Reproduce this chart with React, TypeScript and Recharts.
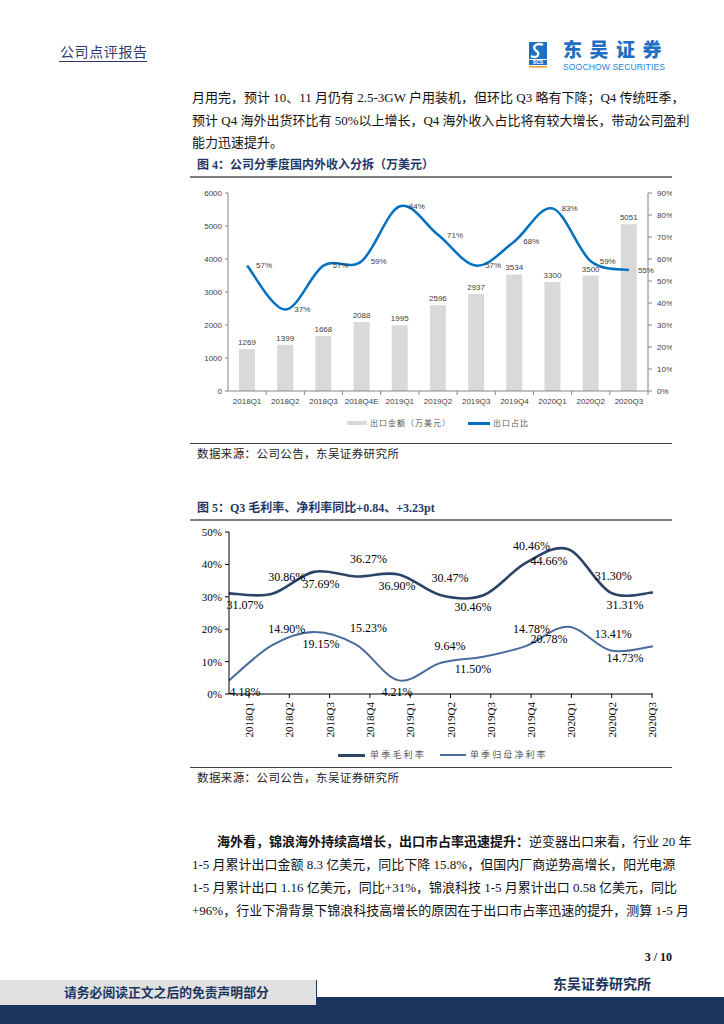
import React from 'react';
import { ComposedChart, LineChart, Bar, Line, XAxis, YAxis, LabelList } from 'recharts';

// ---------- Figure 4 data ----------
const quarters4 = ['2018Q1', '2018Q2', '2018Q3', '2018Q4E', '2019Q1', '2019Q2', '2019Q3', '2019Q4', '2020Q1', '2020Q2', '2020Q3'];
const exportAmount = [1269, 1399, 1668, 2088, 1995, 2596, 2937, 3534, 3300, 3500, 5051];
const exportShare = [57, 37, 57, 59, 84, 71, 57, 68, 83, 59, 55];
const leftTicks4 = [0, 1000, 2000, 3000, 4000, 5000, 6000];
const rightTicks4 = [0, 10, 20, 30, 40, 50, 60, 70, 80, 90];

// ---------- Figure 5 data ----------
const quarters5 = ['2018Q1', '2018Q2', '2018Q3', '2018Q4', '2019Q1', '2019Q2', '2019Q3', '2019Q4', '2020Q1', '2020Q2', '2020Q3'];
const grossMargin = [31.07, 30.86, 37.69, 36.27, 36.9, 30.47, 30.46, 40.46, 44.66, 31.3, 31.31];
const netMargin = [4.18, 14.9, 19.15, 15.23, 4.21, 9.64, 11.5, 14.78, 20.78, 13.41, 14.73];
const ticks5 = [0, 5, 10, 15, 20, 25, 30, 35, 40, 45, 50];

const data4 = quarters4.map((q, i) => ({ q, amount: exportAmount[i], share: exportShare[i] }));
const data5 = quarters5.map((q, i) => ({ q, gross: grossMargin[i], net: netMargin[i] }));

// Excel-like smoothed line (Catmull-Rom style bezier)
const excelSmooth: any = (context: any) => {
  let pts: number[][] = [];
  return {
    areaStart() {},
    areaEnd() {},
    lineStart() {
      pts = [];
    },
    point(x: number, y: number) {
      pts.push([+x, +y]);
    },
    lineEnd() {
      if (!pts.length) return;
      context.moveTo(pts[0][0], pts[0][1]);
      const t = 1 / 6;
      for (let i = 0; i < pts.length - 1; i++) {
        const p0 = pts[i - 1] || pts[i];
        const p1 = pts[i];
        const p2 = pts[i + 1];
        const p3 = pts[i + 2] || p2;
        context.bezierCurveTo(
          p1[0] + (p2[0] - p0[0]) * t,
          p1[1] + (p2[1] - p0[1]) * t,
          p2[0] - (p3[0] - p1[0]) * t,
          p2[1] - (p3[1] - p1[1]) * t,
          p2[0],
          p2[1]
        );
      }
    },
  };
};

const SANS = '"Liberation Sans", Arial, sans-serif';
const SERIF = '"Liberation Serif", "Times New Roman", serif';
const CJK = '"Liberation Serif", "Noto Sans CJK SC", serif';
const NAVY = '#1f3864';

const BAND4 = 420 / 11;

const Tick4 = (p: any) => {
  const { x, y, payload } = p;
  return (
    <g>
      <line x1={x + BAND4 / 2} x2={x + BAND4 / 2} y1={y} y2={y + 4} stroke="#868686" />
      <text x={x} y={y + 10} textAnchor="middle" dominantBaseline="central" fontSize={8} fill="#404040" fontFamily={SANS}>
        {payload.value}
      </text>
    </g>
  );
};

const Tick5 = (p: any) => {
  const { x, y, payload, index } = p;
  const sx = x + 20 - 2.1 * (index || 0);
  return (
    <g>
      <line x1={sx} x2={sx} y1={y} y2={y + 4} stroke="#000" />
      <text
        transform={`translate(${sx},${y + 8}) rotate(-90)`}
        textAnchor="end"
        dominantBaseline="central"
        fontSize={11}
        fill="#000"
        fontFamily={SERIF}
      >
        {payload.value}
      </text>
    </g>
  );
};

const AltLabel = (props: any) => {
  const vb = props.viewBox || {};
  const x = (vb.x ?? props.x) + (vb.width || 0) / 2;
  const y = vb.y ?? props.y;
  const index = props.index || 0;
  const value = Number(props.value);
  const above = index % 2 === 1;
  const dx = above ? 17 - 1.6 * index : 16 - 4.4 * index;
  const dy = above ? -17 : 12;
  return (
    <text x={x + dx} y={y + dy} textAnchor="middle" dominantBaseline="central" fontSize={12} fontFamily={SERIF} fill="#000">
      {value.toFixed(2)}%
    </text>
  );
};

const abs = (left: number, top: number, extra: any = {}) => ({ position: 'absolute' as const, left, top, ...extra });

const Figure4 = () => (
  <ComposedChart width={482} height={226} data={data4} margin={{ top: 8, right: 0, bottom: 0, left: 0 }}>
    <XAxis
      dataKey="q"
      height={20}
      interval={0}
      tickSize={0}
      tickMargin={0}
      tickLine={false}
      axisLine={{ stroke: '#868686' }}
      tick={Tick4}
    />
    <YAxis
      yAxisId="left"
      width={38}
      domain={[0, 6000]}
      ticks={leftTicks4}
      tickSize={3}
      tickMargin={3}
      axisLine={{ stroke: '#868686' }}
      tickLine={{ stroke: '#868686' }}
      tick={{ fontSize: 8, fill: '#404040', fontFamily: SANS }}
    />
    <YAxis
      yAxisId="right"
      orientation="right"
      width={24}
      domain={[0, 90]}
      ticks={rightTicks4}
      tickFormatter={(v: number) => `${v}%`}
      tickSize={4}
      tickMargin={5}
      axisLine={{ stroke: '#868686' }}
      tickLine={{ stroke: '#868686' }}
      tick={{ fontSize: 8, fill: '#404040', fontFamily: SANS, textAnchor: 'start' }}
    />
    <Bar yAxisId="left" dataKey="amount" fill="#d9d9d9" barSize={16} isAnimationActive={false}>
      <LabelList dataKey="amount" position="top" offset={4} fontSize={8} fill="#404040" fontFamily={SANS} />
    </Bar>
    <Line
      yAxisId="right"
      dataKey="share"
      type={excelSmooth}
      stroke="#0070c0"
      strokeWidth={2.5}
      dot={false}
      isAnimationActive={false}
    >
      <LabelList
        dataKey="share"
        position="right"
        offset={9}
        fontSize={8}
        fill="#404040"
        fontFamily={SANS}
        formatter={(v: any) => `${v}%`}
      />
    </Line>
  </ComposedChart>
);

const Figure5 = () => (
  <LineChart width={482} height={217} data={data5} margin={{ top: 10, right: 19, bottom: 0, left: 0 }}>
    <XAxis
      dataKey="q"
      height={45}
      interval={0}
      tickSize={0}
      tickMargin={0}
      tickLine={false}
      axisLine={{ stroke: '#000' }}
      tick={Tick5}
    />
    <YAxis
      width={39}
      domain={[0, 50]}
      ticks={ticks5}
      tickFormatter={(v: number) => `${v}%`}
      tickSize={4}
      tickMargin={3}
      axisLine={{ stroke: '#000' }}
      tickLine={{ stroke: '#000' }}
      tick={{ fontSize: 11, fill: '#000', fontFamily: SERIF }}
    />
    <Line dataKey="gross" type={excelSmooth} stroke="#2c4468" strokeWidth={2.6} dot={false} isAnimationActive={false}>
      <LabelList dataKey="gross" content={AltLabel} />
    </Line>
    <Line dataKey="net" type={excelSmooth} stroke="#4a6c9c" strokeWidth={2} dot={false} isAnimationActive={false}>
      <LabelList dataKey="net" content={AltLabel} />
    </Line>
  </LineChart>
);

const Logo = () => (
  <div style={abs(527, 38, { width: 150, height: 36 })}>
    <svg width={22} height={32} style={{ position: 'absolute', left: 0, top: 2 }}>
      <rect x={2} y={2} width={18} height={17} fill="#1f6fc2" />
      <path d="M16 5 C10 2, 4 7, 9 10.5 C14 14, 10 19, 4 16" stroke="#fff" strokeWidth={2.4} fill="none" />
      <rect x={2} y={20} width={18} height={5} fill="#1f6fc2" />
      <text x={11} y={24.2} textAnchor="middle" fontSize={5} fontWeight="bold" fill="#fff" fontFamily={SANS}>
        SCS
      </text>
      <rect x={2} y={26} width={18} height={1.6} fill="#f0a030" />
    </svg>
    <div
      style={abs(36, 1, {
        fontFamily: '"Noto Sans CJK SC", sans-serif',
        fontWeight: 900,
        fontSize: 19,
        lineHeight: '20px',
        letterSpacing: 7.5,
        color: '#1f6fc2',
        whiteSpace: 'nowrap',
      })}
    >
      东吴证券
    </div>
    <div
      style={abs(36, 24, {
        fontFamily: SANS,
        fontSize: 8.6,
        lineHeight: '10px',
        color: '#2a7fd4',
        whiteSpace: 'nowrap',
        letterSpacing: 0.1,
      })}
    >
      SOOCHOW SECURITIES
    </div>
  </div>
);

const line = (top: number, text: any, opts: any = {}) => (
  <div
    style={abs(opts.left ?? 192, top, {
      width: opts.width ?? 480,
      fontSize: opts.fontSize ?? 13,
      lineHeight: '18px',
      fontFamily: opts.fontFamily ?? CJK,
      color: opts.color ?? '#111',
      textAlign: 'justify',
      textAlignLast: opts.last ? 'left' : 'justify',
      whiteSpace: 'nowrap',
      fontWeight: opts.bold ? 700 : 400,
    })}
  >
    {text}
  </div>
);

export default function App() {
  return (
    <div style={{ position: 'relative', width: 724, height: 1024, background: '#fff', overflow: 'hidden' }}>
      <style>{'body{margin:0}'}</style>

      {/* Header */}
      <div
        style={abs(60, 42, {
          fontFamily: '"Noto Sans CJK SC", serif',
          fontSize: 14,
          lineHeight: '18px',
          letterSpacing: 0.6,
          color: '#2c3b6b',
          whiteSpace: 'nowrap',
        })}
      >
        公司点评报告
      </div>
      <div style={abs(59, 61, { width: 88, height: 1, background: '#2c3b6b' })} />
      <Logo />

      {/* Top paragraph */}
      {line(89, '月用完，预计 10、11 月仍有 2.5-3GW 户用装机，但环比 Q3 略有下降；Q4 传统旺季，')}
      {line(112, '预计 Q4 海外出货环比有 50%以上增长，Q4 海外收入占比将有较大增长，带动公司盈利')}
      {line(134, '能力迅速提升。', { last: true, width: 200 })}

      {/* Figure 4 title */}
      <div
        style={abs(197, 157, {
          fontFamily: CJK,
          fontSize: 12,
          lineHeight: '16px',
          fontWeight: 700,
          color: NAVY,
          whiteSpace: 'nowrap',
        })}
      >
        图 4：公司分季度国内外收入分拆（万美元）
      </div>
      <div style={abs(190, 176, { width: 482, height: 1.5, background: '#7f7f7f' })} />

      {/* Figure 4 chart */}
      <div style={abs(190, 185, { width: 482, height: 226 })}>
        <Figure4 />
      </div>

      {/* Figure 4 legend */}
      <div style={abs(347, 421, { width: 20, height: 4, background: '#d9d9d9' })} />
      <div
        style={abs(370, 417, {
          fontFamily: '"Noto Sans CJK SC", serif',
          fontSize: 8,
          lineHeight: '12px',
          letterSpacing: 1,
          color: '#595959',
          whiteSpace: 'nowrap',
        })}
      >
        出口金额（万美元）
      </div>
      <div style={abs(468, 422, { width: 22, height: 2.5, background: '#0070c0' })} />
      <div
        style={abs(493, 417, {
          fontFamily: '"Noto Sans CJK SC", serif',
          fontSize: 8,
          lineHeight: '12px',
          letterSpacing: 1,
          color: '#595959',
          whiteSpace: 'nowrap',
        })}
      >
        出口占比
      </div>

      <div style={abs(190, 443, { width: 482, height: 1, background: '#404040' })} />
      <div
        style={abs(197, 446, {
          fontFamily: '"Noto Sans CJK SC", serif',
          fontSize: 11.5,
          lineHeight: '14px',
          letterSpacing: 0.4,
          color: '#222',
          whiteSpace: 'nowrap',
        })}
      >
        数据来源：公司公告，东吴证券研究所
      </div>

      {/* Figure 5 title */}
      <div
        style={abs(197, 500, {
          fontFamily: CJK,
          fontSize: 12,
          lineHeight: '16px',
          fontWeight: 700,
          color: NAVY,
          whiteSpace: 'nowrap',
        })}
      >
        图 5：Q3 毛利率、净利率同比+0.84、+3.23pt
      </div>
      <div style={abs(190, 519, { width: 482, height: 1.5, background: '#7f7f7f' })} />

      {/* Figure 5 chart */}
      <div style={abs(190, 522, { width: 482, height: 217 })}>
        <Figure5 />
      </div>

      {/* Figure 5 legend */}
      <div style={abs(338, 754, { width: 27, height: 2.5, background: '#2c4468' })} />
      <div
        style={abs(370, 749, {
          fontFamily: '"Noto Sans CJK SC", serif',
          fontSize: 9,
          lineHeight: '12px',
          letterSpacing: 2.2,
          color: '#595959',
          whiteSpace: 'nowrap',
        })}
      >
        单季毛利率
      </div>
      <div style={abs(440, 754, { width: 26, height: 2, background: '#4a6c9c' })} />
      <div
        style={abs(470, 749, {
          fontFamily: '"Noto Sans CJK SC", serif',
          fontSize: 9,
          lineHeight: '12px',
          letterSpacing: 2.1,
          color: '#595959',
          whiteSpace: 'nowrap',
        })}
      >
        单季归母净利率
      </div>

      <div style={abs(190, 767, { width: 482, height: 1, background: '#404040' })} />
      <div
        style={abs(197, 770, {
          fontFamily: '"Noto Sans CJK SC", serif',
          fontSize: 11.5,
          lineHeight: '14px',
          letterSpacing: 0.4,
          color: '#222',
          whiteSpace: 'nowrap',
        })}
      >
        数据来源：公司公告，东吴证券研究所
      </div>

      {/* Bottom paragraph */}
      <div
        style={abs(217, 833, {
          width: 455,
          fontSize: 13,
          lineHeight: '18px',
          fontFamily: CJK,
          color: '#111',
          textAlign: 'justify',
          textAlignLast: 'justify',
          whiteSpace: 'nowrap',
        })}
      >
        <b>海外看，锦浪海外持续高增长，出口市占率迅速提升：</b>逆变器出口来看，行业 20 年
      </div>
      {line(856, '1-5 月累计出口金额 8.3 亿美元，同比下降 15.8%，但国内厂商逆势高增长，阳光电源')}
      {line(879, '1-5 月累计出口 1.16 亿美元，同比+31%，锦浪科技 1-5 月累计出口 0.58 亿美元，同比')}
      {line(902, '+96%，行业下滑背景下锦浪科技高增长的原因在于出口市占率迅速的提升，测算 1-5 月')}

      {/* Page number */}
      <div
        style={abs(600, 949, {
          width: 72,
          textAlign: 'right',
          fontFamily: SERIF,
          fontWeight: 700,
          fontSize: 12,
          lineHeight: '16px',
          color: '#111',
        })}
      >
        3 / 10
      </div>

      {/* Footer */}
      <div style={abs(317, 997, { width: 407, height: 27, background: '#1b365d' })} />
      <div style={abs(0, 1005, { width: 724, height: 19, background: '#1b365d' })} />
      <div
        style={abs(0, 980, {
          width: 316,
          height: 25,
          background: '#e1e1e1',
          borderRight: '1px solid #1b365d',
        })}
      />
      <div
        style={abs(64, 984, {
          fontFamily: '"Noto Sans CJK SC", serif',
          fontWeight: 700,
          fontSize: 12.8,
          lineHeight: '16px',
          color: '#1b365d',
          whiteSpace: 'nowrap',
        })}
      >
        请务必阅读正文之后的免责声明部分
      </div>
      <div
        style={abs(553, 975, {
          fontFamily: '"Noto Sans CJK SC", serif',
          fontWeight: 700,
          fontSize: 14,
          lineHeight: '17px',
          color: '#1b365d',
          whiteSpace: 'nowrap',
        })}
      >
        东吴证券研究所
      </div>
    </div>
  );
}
